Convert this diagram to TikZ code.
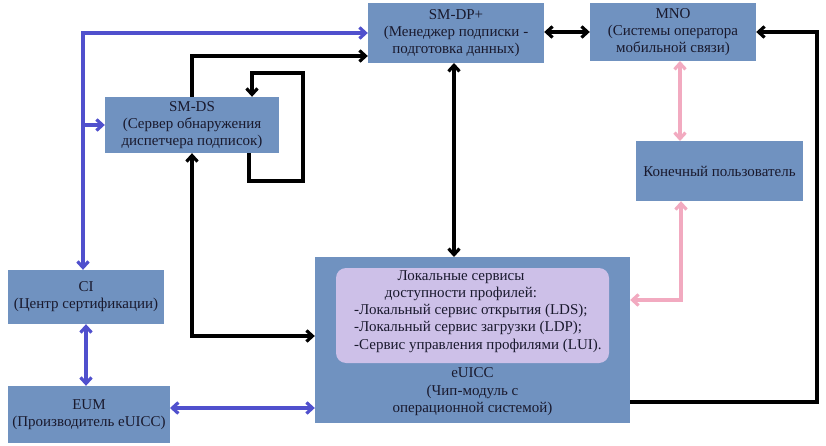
\documentclass[tikz,border=0pt]{standalone}
\usepackage{fontspec}
\setmainfont{Liberation Serif}
\usetikzlibrary{arrows.meta}
\definecolor{boxfill}{RGB}{112,146,192}
\definecolor{innerfill}{RGB}{205,192,232}
\definecolor{bluel}{RGB}{80,80,205}
\definecolor{pinkl}{RGB}{242,170,192}
\definecolor{txt}{RGB}{25,25,45}
\begin{document}
\begin{tikzpicture}[x=1pt,y=-1pt,
  box/.style={fill=boxfill, draw=none, inner sep=0pt, align=center, text=txt,
    font=\fontsize{15}{17}\selectfont},
  lbl/.style={inner sep=0pt, text=txt, font=\fontsize{15}{17.5}\selectfont},
  blk/.style={draw=black, line width=3.2pt, -{Straight Barb[length=6pt,width=11pt]}},
  blu/.style={draw=bluel, line width=3.2pt, -{Straight Barb[length=6pt,width=11pt]}},
  pnk/.style={draw=pinkl, line width=3.2pt, -{Straight Barb[length=6pt,width=11pt]}},
  both/.style={{Straight Barb[length=6pt,width=11pt]}-{Straight Barb[length=6pt,width=11pt]}}
]
\useasboundingbox (0,0) rectangle (826,446);
\fill[white] (0,0) rectangle (826,446);

\node[box, minimum width=176pt, minimum height=60pt] (dp) at (456,33)
  {SM-DP+\\(Менеджер подписки -\\подготовка данных)};
\node[box, minimum width=166pt, minimum height=58pt] (mno) at (673,32)
  {MNO\\(Системы оператора\\мобильной связи)};
\node[box, minimum width=167pt, minimum height=60pt] (user) at (719.5,171)
  {Конечный пользователь};
\node[box, minimum width=174pt, minimum height=56pt] (ds) at (192,125)
  {SM-DS\\(Сервер обнаружения\\диспетчера подписок)};
\node[box, minimum width=156pt, minimum height=54pt] (ci) at (86,297)
  {CI\\(Центр сертификации)};
\node[box, minimum width=162pt, minimum height=57pt] (eum) at (89,414.5)
  {EUM\\(Производитель eUICC)};
\node[box, minimum width=315pt, minimum height=166pt] (euicc) at (472.5,340) {};
\node[fill=innerfill, rounded corners=10pt, minimum width=273pt, minimum height=95pt, inner sep=0pt] (inner) at (472.5,315.5) {};
\node[lbl, align=center] (ititle) at (461,285.5) {Локальные сервисы\\доступности профилей:};
\node[lbl, align=left, anchor=west] (ilist) at (354,328)
  {-Локальный сервис открытия (LDS);\\-Локальный сервис загрузки (LDP);\\-Сервис управления профилями (LUI).};
\node[lbl, align=center] (elbl) at (472.5,392)
  {eUICC\\(Чип-модуль с\\операционной системой)};

% coordinates
\coordinate (bc) at (83,33);
\coordinate (dsc) at (192,56);
\coordinate (l1) at (249,181);
\coordinate (l2) at (303,73);
\coordinate (l3) at (252,73);
\coordinate (dse) at (192,336);
\coordinate (eumc) at (170,408);
\coordinate (rc) at (817,32);
\coordinate (pc) at (681,300);

% blue
\draw[blu, both] (bc |- ci.north) -- (bc) -- (dp.west |- bc);
\draw[blu] (bc |- ds.west) -- (ds.west);
\draw[blu, both] (ci.south) -- (ci.south |- eum.north);
\draw[blu, both] (eumc) -- (euicc.west |- eumc);

% black
\draw[blk] (ds.north) -- (dsc) -- (dp.west |- dsc);
\draw[blk] (l1 |- ds.south) -- (l1) -| (l2) -- (l3) -- (l3 |- ds.north);
\draw[blk, both] (ds.south) -- (dse) -- (euicc.west |- dse);
\draw[blk, both] (454,63) -- (454 ,257);
\draw[blk, both] (dp.east |- rc) -- (mno.west |- rc);
\draw[blk] (euicc.east |- 0,402) -| (rc) -- (mno.east |- rc);

% pink
\draw[pnk, both] (680,61) -- (680,141);
\draw[pnk, both] (pc |- user.south) -- (pc) -- (euicc.east |- pc);
\end{tikzpicture}
\end{document}
